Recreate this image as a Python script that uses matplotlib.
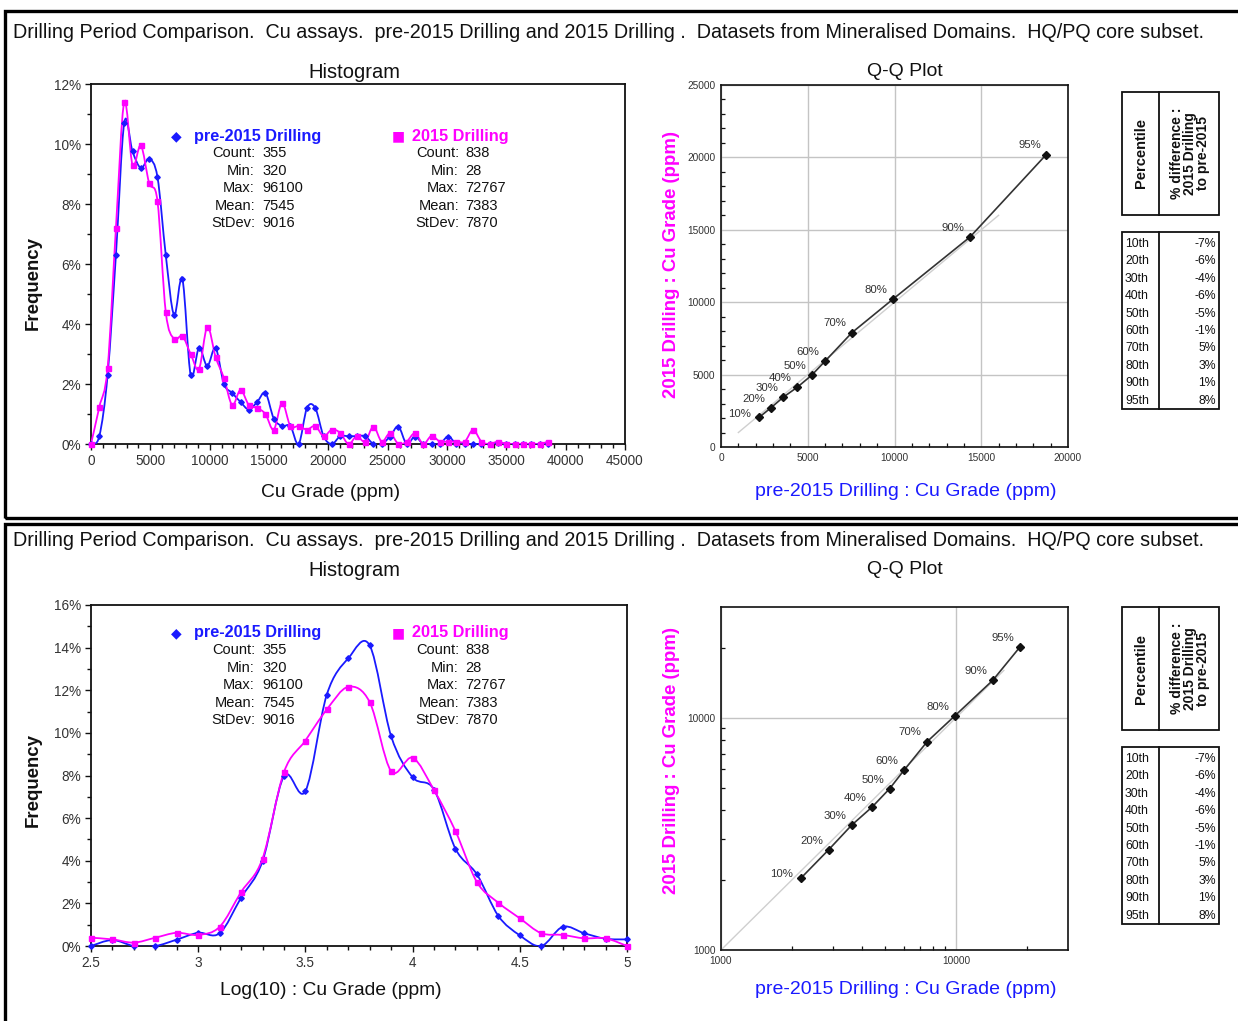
import numpy as np
import matplotlib
matplotlib.use("Agg")
import matplotlib.pyplot as plt
from matplotlib.path import Path
from matplotlib.patches import PathPatch, Rectangle
from matplotlib.ticker import MultipleLocator, FixedLocator, NullFormatter, FuncFormatter

plt.rcParams['font.family'] = ['Liberation Sans', 'DejaVu Sans']

W, H = 1238, 1021

# ---- data ----
grade_bins = [0, 700, 1400, 2100, 2800, 3500, 4200, 4900, 5600, 6300,
              7000, 7700, 8400, 9100, 9800, 10500, 11200, 11900, 12600, 13300,
              14000, 14700, 15400, 16100, 16800, 17500, 18200, 18900, 19600, 20300,
              21000, 21700, 22400, 23100, 23800, 24500, 25200, 25900, 26600, 27300,
              28000, 28700, 29400, 30100, 30800, 31500, 32200, 32900, 33600, 34300,
              35000, 35700, 36400, 37100, 37800, 38500]
pre_freq = [0, 0.26, 2.3, 6.3, 10.7, 9.75, 9.2, 9.5, 8.9, 6.3,
            4.3, 5.5, 2.3, 3.2, 2.6, 3.2, 2.0, 1.7, 1.4, 1.15,
            1.4, 1.7, 0.85, 0.6, 0.6, 0, 1.2, 1.2, 0.26, 0,
            0.26, 0.26, 0.26, 0.26, 0, 0, 0.25, 0.58, 0, 0.25,
            0, 0, 0, 0.25, 0, 0, 0, 0, 0, 0.05,
            0, 0, 0, 0, 0, 0]
new_freq = [0, 1.23, 2.53, 7.2, 11.4, 9.3, 9.95, 8.7, 8.1, 4.4,
            3.5, 3.6, 3.0, 2.5, 3.9, 2.9, 2.2, 1.3, 1.8, 1.3,
            1.2, 1.0, 0.48, 1.37, 0.6, 0.6, 0.48, 0.6, 0.26, 0.48,
            0.37, 0, 0.26, 0.08, 0.58, 0.08, 0.36, 0, 0.08, 0.36,
            0, 0.27, 0.08, 0.08, 0.08, 0.08, 0.47, 0.08, 0, 0.08,
            0, 0, 0, 0, 0, 0.08]

log_bins = [2.5, 2.6, 2.7, 2.8, 2.9, 3.0, 3.1, 3.2, 3.3, 3.4, 3.5, 3.6, 3.7,
            3.8, 3.9, 4.0, 4.1, 4.2, 4.3, 4.4, 4.5, 4.6, 4.7, 4.8, 4.9, 5.0]
pre_log_freq = [0, 0.28, 0, 0, 0.3, 0.62, 0.6, 2.27, 3.98, 7.97, 7.27, 11.8, 13.5,
                14.1, 9.84, 7.92, 7.34, 4.56, 3.36, 1.41, 0.5, 0, 0.9, 0.6, 0.34, 0.31]
new_log_freq = [0.39, 0.31, 0.16, 0.39, 0.62, 0.52, 0.9, 2.53, 4.1, 8.16, 9.64, 11.1, 12.16,
                11.44, 8.2, 8.83, 7.31, 5.39, 3.0, 2.03, 1.3, 0.6, 0.52, 0.36, 0.36, 0]

pct_labels = ['10%', '20%', '30%', '40%', '50%', '60%', '70%', '80%', '90%', '95%']
q_pre = [2200, 2870, 3600, 4400, 5220, 6000, 7550, 9900, 14350, 18750]
q_new = [2050, 2700, 3450, 4130, 4950, 5930, 7900, 10200, 14500, 20200]
ref_line = [1000, 16000]

table_rows = ['10th', '20th', '30th', '40th', '50th', '60th', '70th', '80th', '90th', '95th']
table_diff = ['-7%', '-6%', '-4%', '-6%', '-5%', '-1%', '5%', '3%', '1%', '8%']

stats_names = ['Count:', 'Min:', 'Max:', 'Mean:', 'StDev:']
pre_stats = ['355', '320', '96100', '7545', '9016']
new_stats = ['838', '28', '72767', '7383', '7870']

title = ('Drilling Period Comparison.  Cu assays.  pre-2015 Drilling and 2015 Drilling .  '
         'Datasets from Mineralised Domains.  HQ/PQ core subset.')

BLUE = '#1a1aff'
PINK = '#ff00ff'
TXT = '#111111'


def rect(l, t, r, b):
    return [l / W, 1 - b / H, (r - l) / W, (b - t) / H]


def ftext(x, y, s, **kw):
    return fig.text(x / W, 1 - y / H, s, **kw)


def smooth_path(x, y):
    x = np.asarray(x, float)
    y = np.asarray(y, float)
    n = len(x)
    verts = [(x[0], y[0])]
    codes = [Path.MOVETO]
    for i in range(n - 1):
        a = max(i - 1, 0)
        d = min(i + 2, n - 1)
        c1 = (x[i] + (x[i + 1] - x[a]) / 6, y[i] + (y[i + 1] - y[a]) / 6)
        c2 = (x[i + 1] - (x[d] - x[i]) / 6, y[i + 1] - (y[d] - y[i]) / 6)
        verts += [c1, c2, (x[i + 1], y[i + 1])]
        codes += [Path.CURVE4] * 3
    return Path(verts, codes)


def draw_series(ax, x, y, color, marker, ms):
    ax.add_patch(PathPatch(smooth_path(x, y), fill=False, edgecolor=color, lw=1.3, zorder=3))
    ax.plot(x, y, ls='none', marker=marker, ms=ms, color=color, clip_on=False, zorder=4)


def style_hist(ax):
    for s in ax.spines.values():
        s.set_linewidth(1.3)
        s.set_color('#111111')
    ax.tick_params(which='both', direction='out', labelsize=9.8, labelcolor='#333333',
                   length=4, width=1.0, color='#111111', pad=3)
    ax.tick_params(which='minor', length=3)
    ax.yaxis.set_major_formatter(FuncFormatter(lambda v, p: '%d%%' % round(v)))
    ax.yaxis.set_minor_locator(MultipleLocator(1))


def legend_block(y0, xh_blue, xh_pink):
    ftext(xh_blue - 18, y0, '\u25c6', color=BLUE, fontsize=10, ha='center', va='center',
          family='DejaVu Sans')
    ftext(xh_blue, y0, 'pre-2015 Drilling', color=BLUE, fontsize=11.7, fontweight='bold',
          ha='left', va='center')
    ftext(xh_pink - 14, y0, '\u25a0', color=PINK, fontsize=10, ha='center', va='center',
          family='DejaVu Sans')
    ftext(xh_pink, y0, '2015 Drilling', color=PINK, fontsize=11.7, fontweight='bold',
          ha='left', va='center')
    for i in range(5):
        yy = y0 + 17 + i * 17.6
        ftext(255, yy, stats_names[i], color=TXT, fontsize=10.5, ha='right', va='center')
        ftext(262, yy, pre_stats[i], color=TXT, fontsize=10.5, ha='left', va='center')
        ftext(459, yy, stats_names[i], color=TXT, fontsize=10.5, ha='right', va='center')
        ftext(465, yy, new_stats[i], color=TXT, fontsize=10.5, ha='left', va='center')


def qq_common(ax):
    for s in ax.spines.values():
        s.set_linewidth(1.2)
        s.set_color('#111111')
    ax.tick_params(which='major', length=0, labelsize=7.3, labelcolor='#333333', pad=4)
    ax.tick_params(which='minor', direction='in', length=3, width=0.9, color='#111111')
    ax.grid(True, which='major', color='#c4c4c4', lw=1.0)
    ax.set_axisbelow(True)
    ax.plot(ref_line, ref_line, color='#cfcfcf', lw=1.0, zorder=2)
    ax.plot(q_pre, q_new, color='#333333', lw=1.2, marker='D', ms=4, mfc='#111111',
            mec='#111111', zorder=4)
    for i, (xp, yp, lab) in enumerate(zip(q_pre, q_new, pct_labels)):
        off = (-6, -1) if i == 0 else (-4, 3)
        ax.annotate(lab, (xp, yp), xytext=off, textcoords='offset points', ha='right',
                    va='bottom', fontsize=8.2, color='#333333')


def draw_table(top_hdr, bot_hdr, top_tab, bot_tab):
    l, m, r = 1122, 1159, 1219
    for t, b in ((top_hdr, bot_hdr), (top_tab, bot_tab)):
        fig.add_artist(Rectangle((l / W, 1 - b / H), (r - l) / W, (b - t) / H,
                                 transform=fig.transFigure, fill=False, lw=1.3, ec='#111111'))
        fig.add_artist(plt.Line2D([m / W, m / W], [1 - b / H, 1 - t / H],
                                  transform=fig.transFigure, lw=1.3, color='#111111'))
    yc = (top_hdr + bot_hdr) / 2
    ftext((l + m) / 2 + 1, yc, 'Percentile', rotation=90, ha='center', va='center',
          fontsize=10.5, fontweight='bold', color=TXT)
    ftext((m + r) / 2 + 1, yc, '% difference :\n2015 Drilling\nto pre-2015', rotation=90,
          ha='center', va='center', fontsize=10, fontweight='bold', color=TXT,
          linespacing=0.9)
    for i in range(10):
        yy = top_tab + 12 + i * 17.4
        ftext(l + 3, yy, table_rows[i], ha='left', va='center', fontsize=8.8, color=TXT)
        ftext(r - 3, yy, table_diff[i], ha='right', va='center', fontsize=8.8, color=TXT)


fig = plt.figure(figsize=(W / 100, H / 100), dpi=100)
fig.patch.set_facecolor('white')

# panel frames
fig.add_artist(Rectangle((4.5 / W, 1 - 518 / H), 1260 / W, 507 / H, transform=fig.transFigure,
                         fill=False, lw=2.4, ec='black'))
fig.add_artist(Rectangle((4.5 / W, 1 - 1040 / H), 1260 / W, 516 / H, transform=fig.transFigure,
                         fill=False, lw=2.4, ec='black'))

for ty in (32, 540):
    ftext(13, ty, title, fontsize=14.2, color=TXT, ha='left', va='center')

# ---- top histogram ----
ax1 = fig.add_axes(rect(91, 84, 625, 444))
draw_series(ax1, grade_bins, pre_freq, BLUE, 'D', 2.8)
draw_series(ax1, grade_bins, new_freq, PINK, 's', 3.6)
ax1.set_xlim(0, 45000)
ax1.set_ylim(0, 12)
ax1.xaxis.set_major_locator(MultipleLocator(5000))
ax1.xaxis.set_minor_locator(MultipleLocator(1000))
ax1.yaxis.set_major_locator(MultipleLocator(2))
style_hist(ax1)
ftext(354, 73, 'Histogram', fontsize=14.5, ha='center', va='center', color=TXT)
ftext(331, 492, 'Cu Grade (ppm)', fontsize=13.9, ha='center', va='center', color=TXT)
ftext(33, 283, 'Frequency', fontsize=13.4, fontweight='bold', rotation=90, ha='center',
      va='center', color=TXT)
legend_block(136, 194, 412)

# ---- top Q-Q ----
ax2 = fig.add_axes(rect(721, 85, 1068, 447))
ax2.set_xlim(0, 20000)
ax2.set_ylim(0, 25000)
ax2.xaxis.set_major_locator(MultipleLocator(5000))
ax2.yaxis.set_major_locator(MultipleLocator(5000))
ax2.xaxis.set_minor_locator(MultipleLocator(1000))
ax2.yaxis.set_minor_locator(MultipleLocator(1000))
qq_common(ax2)
ftext(905, 72, 'Q-Q Plot', fontsize=14, ha='center', va='center', color=TXT)
ftext(906, 491, 'pre-2015 Drilling : Cu Grade (ppm)', fontsize=14, ha='center', va='center',
      color=BLUE)
ftext(672, 264, '2015 Drilling : Cu Grade (ppm)', fontsize=13.4, fontweight='bold',
      rotation=90, ha='center', va='center', color=PINK)
draw_table(92, 215, 232, 409)

# ---- bottom histogram ----
ax3 = fig.add_axes(rect(91, 605, 627, 946))
draw_series(ax3, log_bins, pre_log_freq, BLUE, 'D', 2.8)
draw_series(ax3, log_bins, new_log_freq, PINK, 's', 3.6)
ax3.set_xlim(2.5, 5)
ax3.set_ylim(0, 16)
ax3.xaxis.set_major_locator(MultipleLocator(0.5))
ax3.xaxis.set_minor_locator(MultipleLocator(0.1))
ax3.xaxis.set_major_formatter(FuncFormatter(lambda v, p: ('%g' % v)))
ax3.yaxis.set_major_locator(MultipleLocator(2))
style_hist(ax3)
ftext(354, 571, 'Histogram', fontsize=14.5, ha='center', va='center', color=TXT)
ftext(331, 990, 'Log(10) : Cu Grade (ppm)', fontsize=13.9, ha='center', va='center', color=TXT)
ftext(33, 780, 'Frequency', fontsize=13.4, fontweight='bold', rotation=90, ha='center',
      va='center', color=TXT)
legend_block(633, 194, 412)

# ---- bottom Q-Q (log) ----
ax4 = fig.add_axes(rect(721, 607, 1068, 950))
ax4.set_xscale('log')
ax4.set_yscale('log')
ax4.set_xlim(1000, 30000)
ax4.set_ylim(1000, 30000)
for axis in (ax4.xaxis, ax4.yaxis):
    axis.set_major_locator(FixedLocator([1000, 10000]))
    axis.set_major_formatter(FuncFormatter(lambda v, p: '%d' % v))
    axis.set_minor_locator(FixedLocator([2000, 3000, 4000, 5000, 6000, 7000, 8000, 9000,
                                         20000]))
    axis.set_minor_formatter(NullFormatter())
qq_common(ax4)
ftext(905, 570, 'Q-Q Plot', fontsize=14, ha='center', va='center', color=TXT)
ftext(906, 989, 'pre-2015 Drilling : Cu Grade (ppm)', fontsize=14, ha='center', va='center',
      color=BLUE)
ftext(672, 760, '2015 Drilling : Cu Grade (ppm)', fontsize=13.4, fontweight='bold',
      rotation=90, ha='center', va='center', color=PINK)
draw_table(607, 730, 747, 924)

fig.savefig('out.png', dpi=100)
